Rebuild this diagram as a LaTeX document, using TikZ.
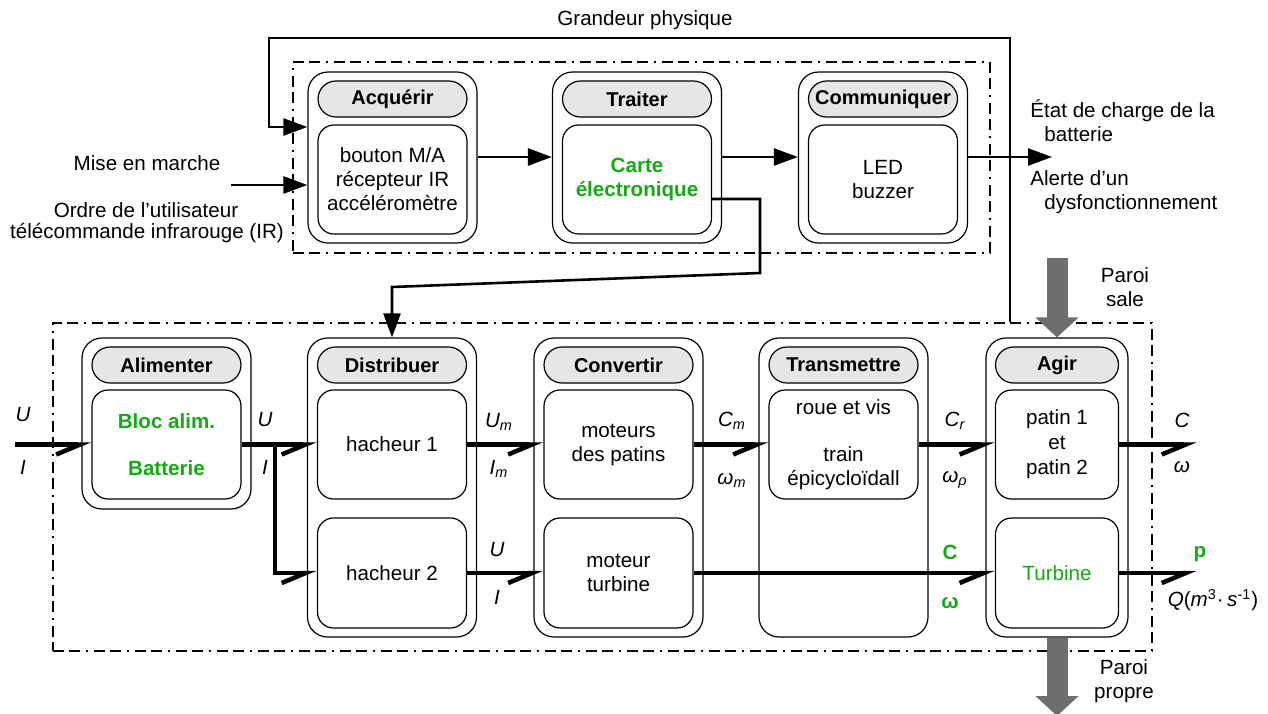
\documentclass[tikz,border=0pt]{standalone}
\usepackage{fontspec}
\setmainfont{Liberation Sans}
\usetikzlibrary{arrows.meta}
\definecolor{vertfonc}{RGB}{20,170,20}
\definecolor{grisentete}{RGB}{230,230,230}
\definecolor{grisfleche}{RGB}{110,110,110}

\begin{document}
\begin{tikzpicture}[x=0.5pt, y=-0.5pt, font=\fontsize{10.3}{12}\selectfont,
	cadre/.style={draw, line width=0.6pt, rounded corners=10pt, minimum width=84.5pt, minimum height=85.5pt, inner sep=0pt},
	entete/.style={draw, fill=grisentete, line width=0.6pt, rounded corners=9pt, minimum width=74.5pt, minimum height=18pt, inner sep=0pt, font=\fontsize{10}{12}\selectfont\bfseries},
	bloc/.style={draw, line width=0.6pt, rounded corners=8pt, minimum width=74.5pt, minimum height=54.5pt, inner sep=0pt, align=center},
	chaine/.style={draw, line width=1.4pt, dash pattern={on 5.5pt off 2.5pt on 5.5pt off 3pt on 1pt off 3pt}, inner sep=0pt},
	info/.style={line width=1.3pt, -{Triangle[length=12pt, width=8.5pt]}},
	puissance/.style={line width=2.25pt, -{Straight Barb[harpoon, swap, length=12pt, width=10pt]}},
	paroi/.style={line width=10.5pt, draw=grisfleche, -{Triangle[length=10pt, width=21pt]}},
	grandeur/.style={font=\fontsize{10.3}{12}\selectfont\itshape},
	vert/.style={text=vertfonc, font=\fontsize{10.3}{12}\selectfont\bfseries},
]
	\useasboundingbox (0,0) rectangle (1268,713);
	% Chaine d'information:
	\node[chaine, minimum width=348.5pt, minimum height=95.5pt] (chaineinfo) at (641.5,157.5) {};
	\node[cadre] (acq) at (392.5,157.5) {};
	\node[entete] (acqtete) at (392.5,99) {Acquérir};
	\node[bloc] (acqbloc) at (392.5,179.5) {bouton M/A\\récepteur IR\\accéléromètre};
	\node[cadre] (trt) at (637,157.5) {};
	\node[entete] (trttete) at (637,99) {Traiter};
	\node[bloc, vert] (trtbloc) at (637,179.5) {Carte\\électronique};
	\node[cadre] (com) at (883,157.5) {};
	\node[entete] (comtete) at (883,99) {Communiquer};
	\node[bloc] (combloc) at (883,179.5) {LED\\buzzer};

	% Chaine d'energie:
	\node[chaine, minimum width=549.5pt, minimum height=164pt] (chaineener) at (602.5,487) {};
	\node[cadre] (alim) at (166.5,423.5) {};
	\node[entete] (alimtete) at (166.5,365) {Alimenter};
	\node[bloc, vert] (alim1) at (166.5,444.5) {Bloc alim.\\[11.5pt]Batterie};
	\node[cadre, minimum height=149.5pt] (dist) at (392,487.5) {};
	\node[entete] (disttete) at (392,365) {Distribuer};
	\node[bloc] (dist1) at (392,444.5) {hacheur 1};
	\node[bloc, minimum height=55pt] (dist2) at (392,573) {hacheur 2};
	\node[cadre, minimum height=149.5pt] (conv) at (618.5,487.5) {};
	\node[entete] (convtete) at (618.5,365) {Convertir};
	\node[bloc] (conv1) at (618.5,444.5) {moteurs\\des patins};
	\node[bloc, minimum height=55pt] (conv2) at (618.5,573) {moteur\\turbine};
	\node[cadre, minimum height=149.5pt] (trans) at (843.5,487.5) {};
	\node[entete] (transtete) at (843.5,365) {Transmettre};
	\node[bloc] (trans1) at (843.5,444.5) {roue et vis\\[11.5pt]train\\épicycloïdall};
	\node[cadre, minimum width=71pt, minimum height=149.5pt] (agir) at (1057,487.5) {};
	\node[entete, minimum width=61.5pt] (agirtete) at (1057,365) {Agir};
	\node[bloc, minimum width=61.5pt, font=\fontsize{10.3}{12.5}\selectfont] (agir1) at (1057,444.5) {patin 1\\et\\patin 2};
	\node[bloc, minimum width=61.5pt, minimum height=55pt, text=vertfonc] (agir2) at (1057,573) {Turbine};

	% Textes exterieurs:
	\node (grphys) at (645,20) {Grandeur physique};
	\node (mise) at (147,163) {Mise en marche};
	\node (ordre) at (146,210) {Ordre de l’utilisateur};
	\node (telec) at (147,233) {télécommande infrarouge (IR)};
	\node[anchor=west, align=left, inner sep=0pt] (etat) at (1030,121) {État de charge de la\\\hspace*{7pt}batterie};
	\node[anchor=west, align=left, inner sep=0pt] (alerte) at (1030,192) {Alerte d’un\\\hspace*{7pt}dysfonctionnement};
	\node[align=center] (sale) at (1125,287) {Paroi\\sale};
	\node[align=center] (propre) at (1124,681) {Paroi\\propre};

	% Fleches d'information:
	\coordinate (rangfleche) at (0,157);
	\coordinate (rangretour) at (0,127);
	\coordinate (retourbas) at (1010,322);
	\coordinate (retourhaut) at (1010,38);
	\coordinate (retourgauche) at (269,38);
	\draw[info] (retourbas) -- (retourhaut) -- (retourgauche) |- (acq.west |- rangretour);
	\coordinate (depmarche) at (231,185);
	\draw[info] (depmarche) -- (acq.west |- depmarche);
	\draw[info] (acq.east |- rangfleche) -- (trt.west |- rangfleche);
	\draw[info] (trt.east |- rangfleche) -- (com.west |- rangfleche);
	\coordinate (sortieinfo) at (1052,157);
	\draw[info] (com.east |- rangfleche) -- (sortieinfo);
	\coordinate (rangcarte) at (0,199);
	\coordinate (coude1) at (760,199);
	\coordinate (coude2) at (760,273);
	\coordinate (coude3) at (392,287);
	\draw[info] (trtbloc.east |- rangcarte) -- (coude1) -- (coude2) -- (coude3) -- (dist.north);

	% Fleches de puissance:
	\coordinate (entree) at (15,444.5);
	\coordinate (derivation) at (275,444.5);
	\coordinate (sortie1) at (1197,444.5);
	\coordinate (sortie2) at (1197,573);
	\draw[puissance] (entree) -- (alim1.west);
	\draw[puissance] (alim1.east) -- (dist1.west);
	\draw[puissance] (derivation) |- (dist2.west);
	\draw[puissance] (dist1.east) -- (conv1.west);
	\draw[puissance] (conv1.east) -- (trans1.west);
	\draw[puissance] (trans1.east) -- (agir1.west);
	\draw[puissance] (agir1.east) -- (sortie1);
	\draw[puissance] (dist2.east) -- (conv2.west);
	\draw[puissance] (conv2.east) -- (agir2.west);
	\draw[puissance] (agir2.east) -- (sortie2);

	% Grandeurs:
	\node[grandeur] (u0) at (23,415) {U};
	\node[grandeur] (i0) at (23,467) {I};
	\node[grandeur] (u1) at (265,420) {U};
	\node[grandeur] (i1) at (265,467) {I};
	\node[grandeur] (um) at (499,422) {U\textsubscript{m}};
	\node[grandeur] (im) at (499,469) {I\textsubscript{m}};
	\node[grandeur] (u2) at (497,550) {U};
	\node[grandeur] (i2) at (497,597) {I};
	\node[grandeur] (cm) at (732,421) {C\textsubscript{m}};
	\node[grandeur] (wm) at (732,480) {ω\textsubscript{m}};
	\node[grandeur] (cr) at (955,421) {C\textsubscript{r}};
	\node[grandeur] (wr) at (955,480) {ω\textsubscript{ρ}};
	\node[vert] (cvert) at (950,552) {C};
	\node[vert] (wvert) at (950,603) {ω};
	\node[grandeur] (cout) at (1182,420) {C};
	\node[grandeur] (wout) at (1182,467) {ω};
	\node[vert] (pvert) at (1200,554) {p};
	\node (debit) at (1213,600) {\textit{Q}(\textit{m}\textsuperscript{3}·\,\textit{s}\textsuperscript{-1})};

	% Parois:
	\coordinate (salehaut) at (1057,258);
	\coordinate (proprebas) at (1057,716);
	\draw[paroi] (salehaut) -- (agir.north);
	\draw[paroi] (agir.south) -- (proprebas);
\end{tikzpicture}
\end{document}
